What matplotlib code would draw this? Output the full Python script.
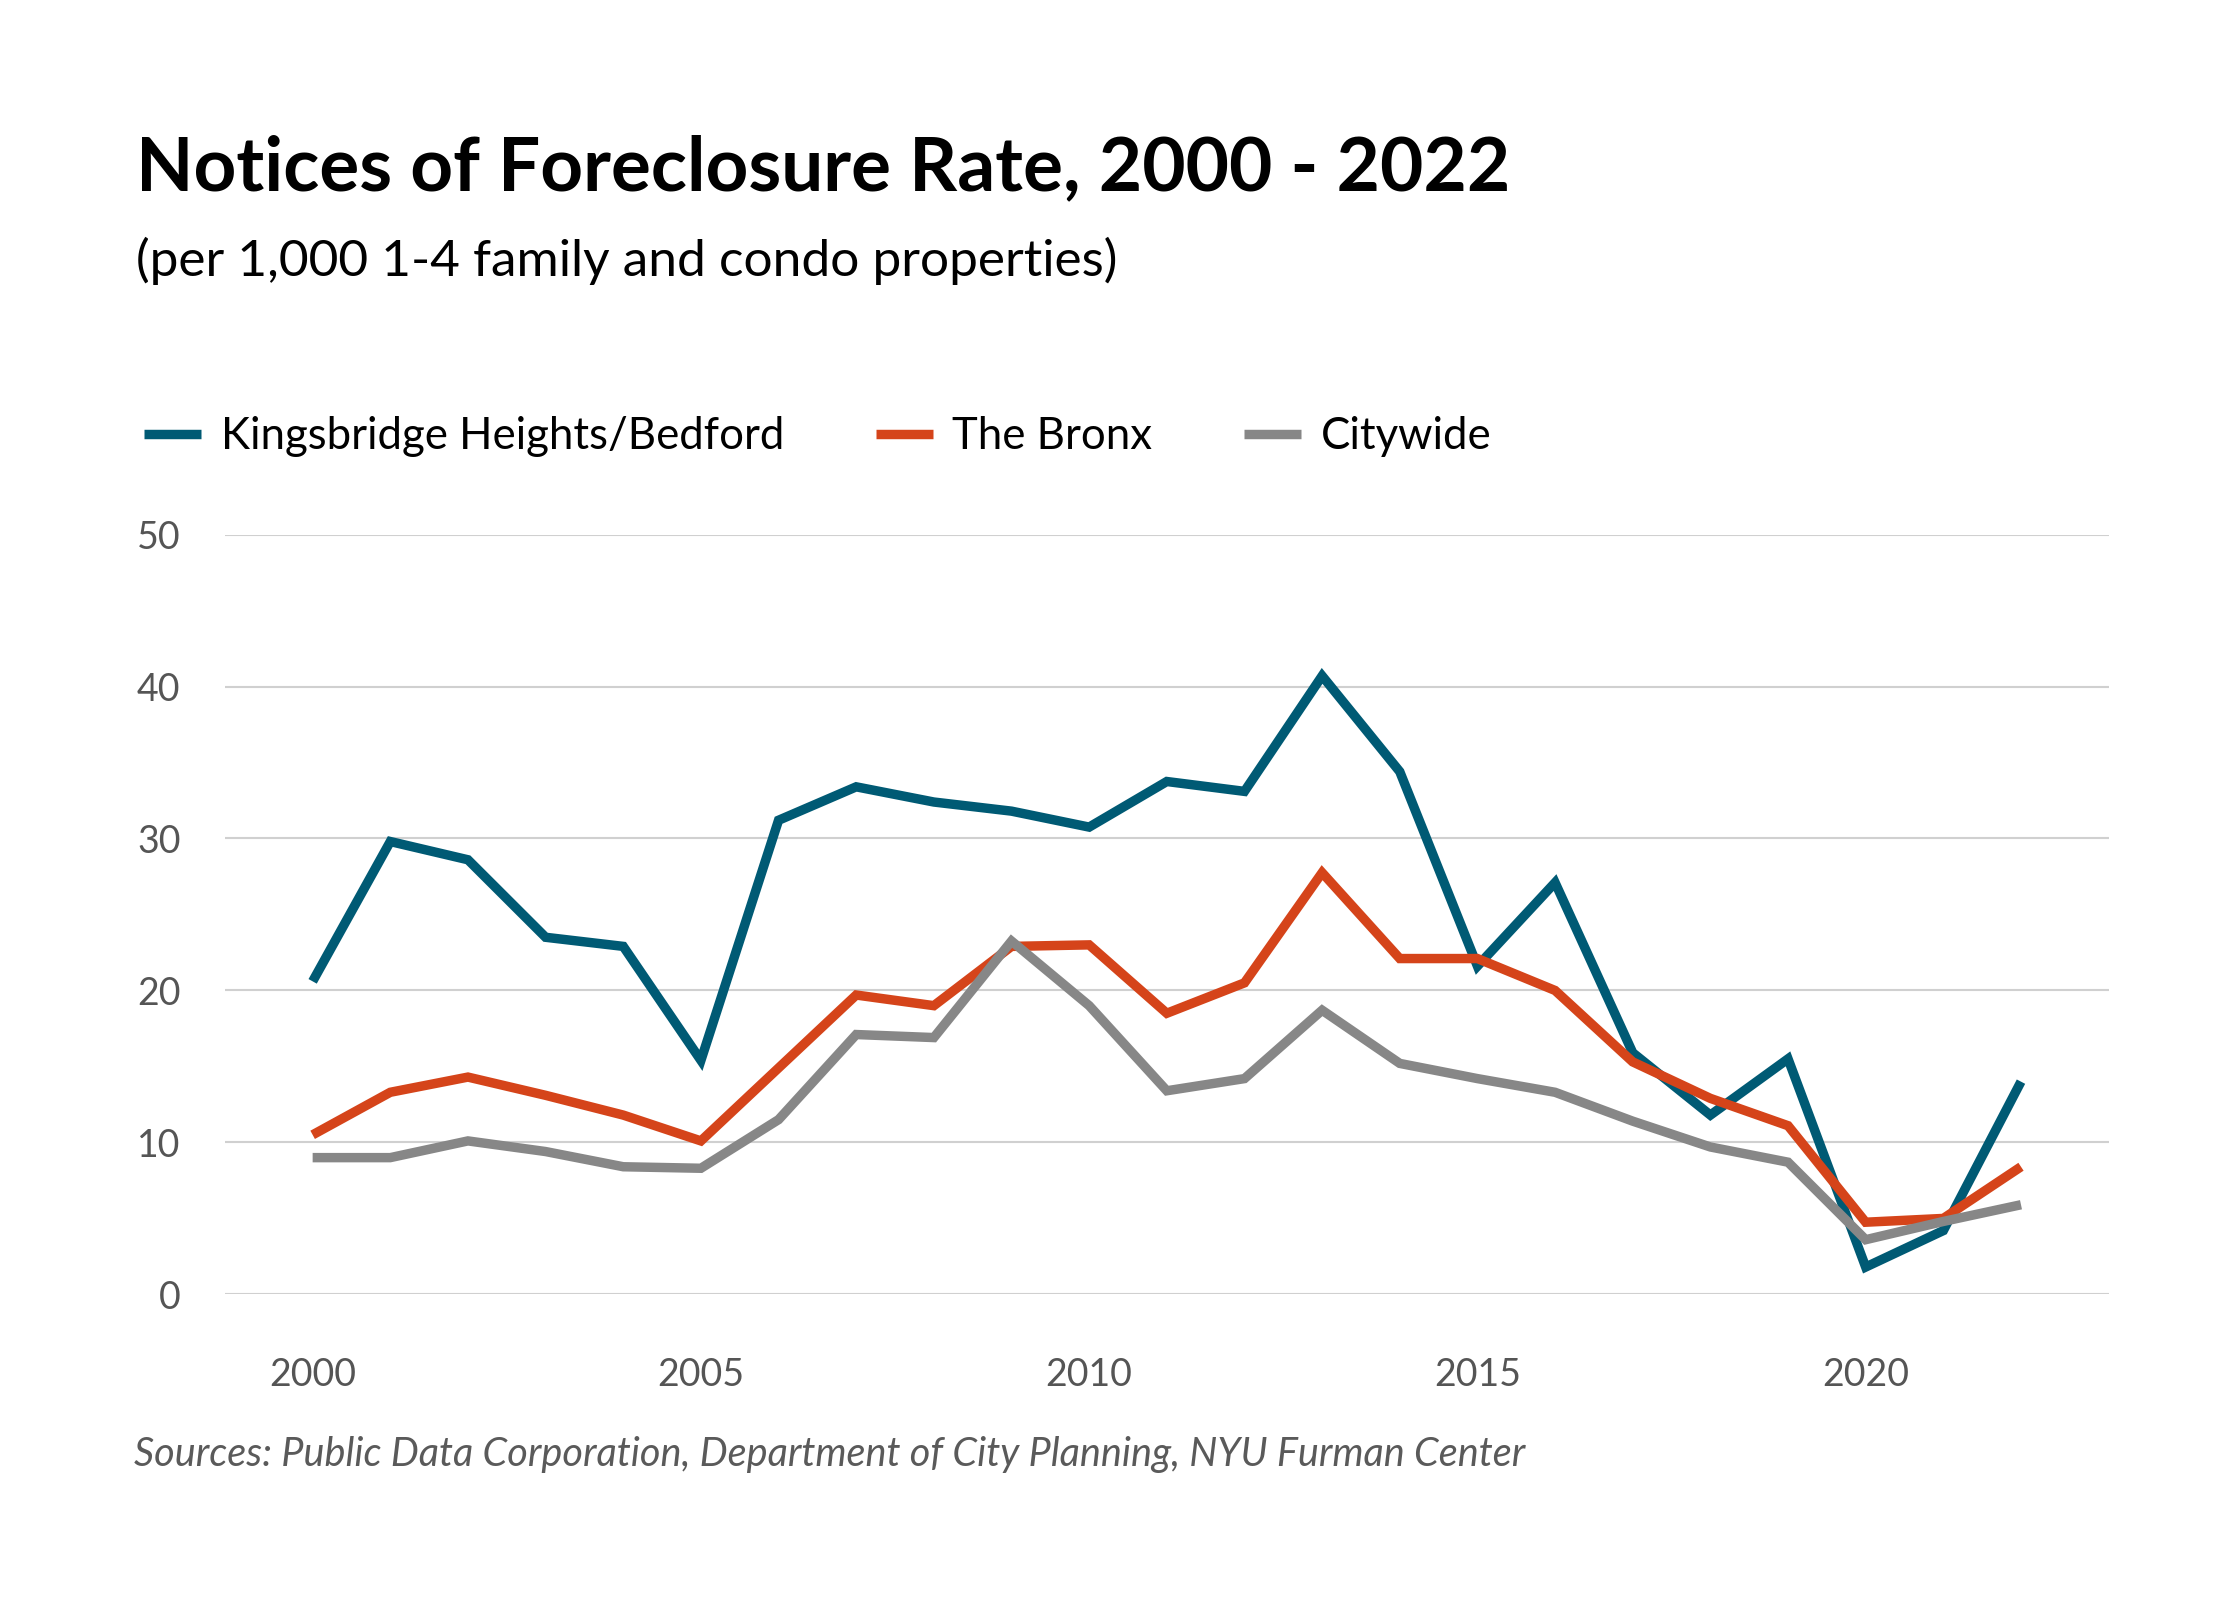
import numpy as np
import matplotlib
matplotlib.use("Agg")
import matplotlib.pyplot as plt

# ---------------------------------------------------------------------
# Data
# ---------------------------------------------------------------------

years = list(range(2000, 2023))

kingsbridge = [20.6, 29.8, 28.6, 23.5, 22.9, 15.4, 31.2, 33.4, 32.4, 31.8,
               30.75, 33.75, 33.1, 40.7, 34.4, 21.6, 27.1, 15.9, 11.8, 15.5,
               1.8, 4.2, 14.0]
bronx = [10.5, 13.3, 14.3, 13.1, 11.8, 10.1, 14.9, 19.7, 19.0, 22.9,
         23.0, 18.5, 20.5, 27.75, 22.1, 22.1, 20.0, 15.3, 12.9, 11.1,
         4.75, 5.0, 8.4]
citywide = [9.0, 9.0, 10.1, 9.4, 8.4, 8.3, 11.5, 17.1, 16.9, 23.25,
            19.0, 13.4, 14.2, 18.7, 15.2, 14.2, 13.3, 11.4, 9.7, 8.7,
            3.6, 4.8, 5.9]

series_labels = ["Kingsbridge Heights/Bedford", "The Bronx", "Citywide"]
series_colors = ["#005A74", "#D5441A", "#878787"]

y_ticks = [0, 10, 20, 30, 40, 50]
x_ticks = [2000, 2005, 2010, 2015, 2020]

# ---------------------------------------------------------------------
# Plot
# ---------------------------------------------------------------------

plt.rcParams["font.family"] = ["Lato", "DejaVu Sans"]

fig = plt.figure(figsize=(22.4, 16), dpi=100)
ax = fig.add_axes([0.1004, 0.191, 0.841, 0.4749])

for values, label, color in zip([kingsbridge, bronx, citywide],
                                series_labels, series_colors):
    ax.plot(years, values, color=color, linewidth=6.8, label=label,
            solid_joinstyle="miter", solid_capstyle="butt", zorder=3)

ax.set_xlim(1998.87, 2023.13)
ax.set_ylim(0, 50)
ax.set_xticks(x_ticks)
ax.set_yticks(y_ticks)
ax.set_xticklabels([str(x) for x in x_ticks])
ax.set_yticklabels([str(y) for y in y_ticks])

ax.grid(axis="y", color="#d0d0d0", linewidth=1.5, zorder=0)
for spine in ax.spines.values():
    spine.set_visible(False)

ax.tick_params(axis="both", length=0, labelsize=27, labelcolor="#555555")
ax.tick_params(axis="y", pad=32)
ax.tick_params(axis="x", pad=45)

# Title and subtitle
fig.text(0.0607, 0.881, "Notices of Foreclosure Rate, 2000 - 2022",
         fontsize=53.8, fontweight="bold", color="black", va="baseline")
fig.text(0.0607, 0.8275, "(per 1,000 1-4 family and condo properties)",
         fontsize=37, color="black", va="baseline")

# Legend
fig.legend(loc="center left", bbox_to_anchor=(0.0643, 0.727), ncol=3,
           frameon=False, fontsize=31.5, handlelength=1.3,
           handletextpad=0.45, columnspacing=2.1, borderpad=0,
           borderaxespad=0)

# Source
fig.text(0.06, 0.084,
         "Sources: Public Data Corporation, Department of City Planning, NYU Furman Center",
         fontsize=28.5, fontstyle="italic", color="#5a5a5a", va="baseline")

fig.savefig("out.png", dpi=100, facecolor="white")
